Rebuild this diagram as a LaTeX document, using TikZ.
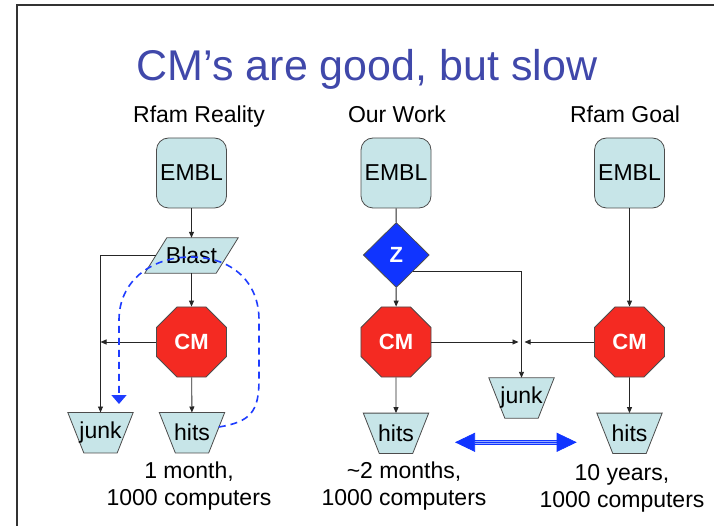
\documentclass[tikz,border=0pt]{standalone}
\usepackage{fontspec}
\setmainfont{Liberation Sans}
\usetikzlibrary{shapes.geometric,arrows.meta,calc}
\definecolor{boxfill}{RGB}{199,229,232}
\definecolor{cmred}{RGB}{244,42,34}
\definecolor{zblue}{RGB}{16,52,255}
\definecolor{titleblue}{RGB}{64,72,170}
\definecolor{loopblue}{RGB}{30,60,255}
\definecolor{stripe}{RGB}{150,170,255}
\pgfdeclarelayer{bg}
\pgfsetlayers{bg,main}
\begin{document}
\begin{tikzpicture}[x=1pt,y=-1pt,
  txt/.style={font=\fontsize{23}{27}\selectfont, inner sep=0pt},
  embl/.style={txt, rectangle, rounded corners=12pt, draw=black!70, line width=0.8pt, fill=boxfill, minimum width=70pt, minimum height=70pt},
  cmnode/.style={regular polygon, regular polygon sides=8, minimum size=75.8pt, inner sep=0pt, fill=cmred, draw=black!70, line width=0.8pt, text=white, font=\fontsize{22}{26}\selectfont\bfseries},
  znode/.style={diamond, minimum width=66pt, minimum height=65pt, inner sep=0pt, fill=zblue, draw=black!70, line width=0.8pt, text=white, font=\fontsize{22}{26}\selectfont\bfseries},
  outbox/.style={txt, minimum width=65pt, minimum height=40pt},
  shapefill/.style={fill=boxfill, draw=black!70, line width=0.8pt},
  conn/.style={draw=black!85, line width=0.9pt},
  arr/.style={conn, -{Triangle[length=6pt,width=5pt]}},
]
\useasboundingbox (0,0) rectangle (714,526);
\draw[black!80, line width=1.5pt] (17,526) -- (17,5) -- (714,5);

% title and headers
\node[font=\fontsize{43}{50}\selectfont, text=titleblue, anchor=base, inner sep=0pt] (title) at (367,81) {CM’s are good, but slow};
\node[txt, anchor=base] (hleft) at (199,123) {Rfam Reality};
\node[txt, anchor=base] (hmid) at (397,123) {Our Work};
\node[txt, anchor=base] (hright) at (625,123) {Rfam Goal};

% left column
\node[embl] (e1) at (191.5,173) {EMBL};
\node[txt, minimum width=71pt, minimum height=35pt] (b1) at (191.5,255.5) {Blast};
\node[cmnode] (c1) at (191.5,342) {CM};
\node[outbox] (j1) at (100.5,432.7) {junk};
\node[outbox] (h1) at (192,432.7) {hits};

% middle column
\node[embl] (e2) at (396,173) {EMBL};
\node[znode] (z) at (396.3,255) {Z};
\node[cmnode] (c2) at (396,342) {CM};
\node[outbox] (j2) at (521.5,398) {junk};
\node[outbox] (h2) at (396,433.3) {hits};

% right column
\node[embl] (e3) at (629.5,173) {EMBL};
\node[cmnode] (c3) at (629.5,342) {CM};
\node[outbox] (h3) at (629.5,433.3) {hits};

% bottom texts (base anchor = last line)
\node[txt, align=center, anchor=base] (t1) at (189,505) {1 month,\\1000 computers};
\node[txt, align=center, anchor=base] (t2) at (404,505) {\textasciitilde{}2 months,\\1000 computers};
\node[txt, align=center, anchor=base] (t3) at (622,507) {10 years,\\1000 computers};

% background shapes
\begin{pgfonlayer}{bg}
\foreach \n in {j1,h1,j2,h2,h3}
  \filldraw[shapefill] (\n.north west) -- (\n.north east) -- ($(\n.south east)+(-16,0)$) -- ($(\n.south west)+(16,0)$) -- cycle;
\filldraw[shapefill] ($(b1.north west)+(11,0)$) -- ($(b1.north east)+(11,0)$) -- ($(b1.south east)+(-11,0)$) -- ($(b1.south west)+(-11,0)$) -- cycle;
\end{pgfonlayer}

% left connectors
\draw[arr] (e1) -- (b1);
\draw[arr] (b1) -- (c1);
\draw[arr] (c1) -- (h1);
\draw[arr] (b1.west) -| (j1.north);
\draw[arr] (c1.west) -- (c1.west -| j1.north);

% middle connectors
\draw[conn] (e2) -- (z);
\draw[arr] (z) -- (c2);
\draw[arr] (c2) -- (h2);
\draw[arr] (z.south east) -| (j2.north);
\draw[arr, shorten >=3pt] (c2.east) -- (c2.east -| j2.north);

% right connectors
\draw[arr] (e3) -- (c3);
\draw[arr] (c3) -- (h3);
\draw[arr, shorten >=3pt] (c3.west) -- (c3.west -| j2.north);

% dashed feedback loop
\coordinate (ls) at ($(h1.center)+(26.8,-5.7)$);
\coordinate (le) at (119,404);
\draw[loopblue, line width=1.6pt, dash pattern=on 7pt off 5pt, -{Triangle[length=9pt,width=15pt]}]
  (ls) .. controls (250,422) and (259,412) .. (259,380) -- (259,320)
  .. controls (259,282) and (232,257) .. (191,257)
  .. controls (150,257) and (119,282) .. (119,320) -- (le);

% double arrow
\coordinate (da) at (455,442.3);
\coordinate (db) at (576.7,442.3);
\draw[zblue, line width=1.3pt, double=stripe, double distance=2.6pt, shorten <=18pt, shorten >=18pt] (da) -- (db);
\draw[zblue, line width=0.7pt, {Triangle[length=20pt,width=19pt]}-{Triangle[length=20pt,width=19pt]}] (da) -- (db);
\end{tikzpicture}
\end{document}
